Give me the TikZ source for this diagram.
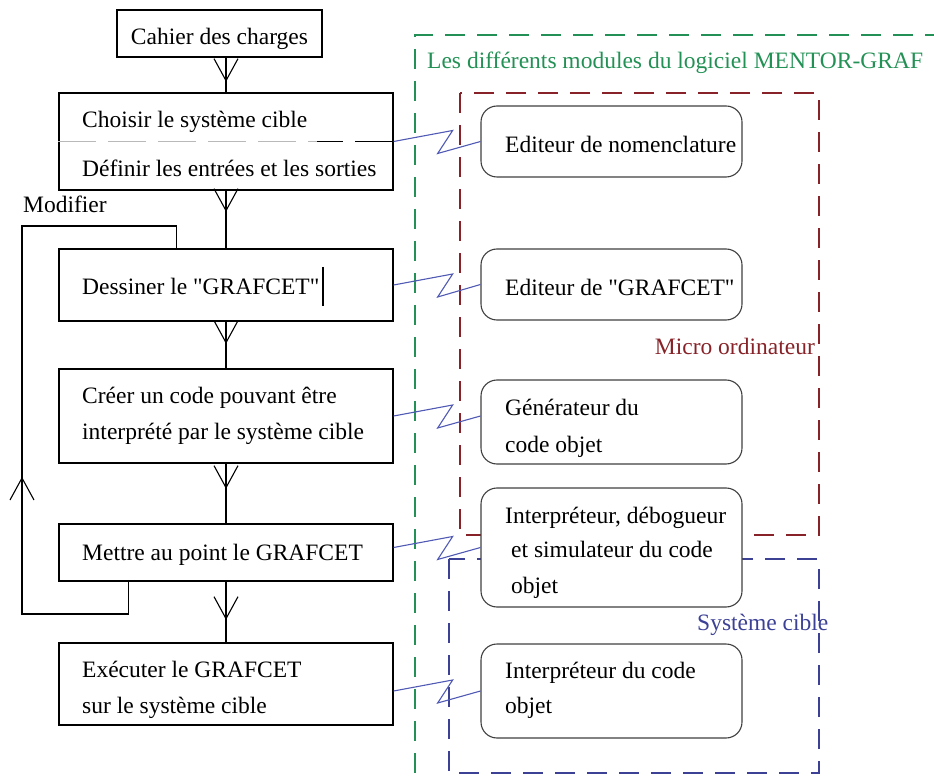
\documentclass[tikz,border=0pt]{standalone}
\usepackage{fontspec}
\setmainfont{Liberation Serif}[Ligatures=TeXOff]
\usetikzlibrary{calc}
\definecolor{mgreen}{RGB}{35,145,85}
\definecolor{mred}{RGB}{135,35,40}
\definecolor{mblue}{RGB}{60,65,150}
\definecolor{cblue}{RGB}{80,90,180}
\begin{document}
\begin{tikzpicture}[x=1pt,y=-1pt,
  font=\fontsize{23.5}{36}\selectfont,
  box/.style={draw=black, line width=1.3pt, fill=white, inner sep=0pt, minimum width=334pt},
  rbox/.style={draw=black!75, line width=1.1pt, rounded corners=16pt, fill=white, inner sep=0pt, minimum width=261pt},
  txt/.style={anchor=base west, inner sep=0pt},
  flow/.style={draw=black, line width=1.3pt},
  zig/.style={draw=cblue, line width=1.1pt, line join=miter},
  grp/.style={line width=1.3pt, dash pattern=on 20pt off 12pt},
  veedown/.pic={\draw[line width=1.1pt] (-12,-22) -- (0,0) -- (12,-22);},
  veeup/.pic={\draw[line width=1.1pt] (-12,22) -- (0,0) -- (12,22);}]
\useasboundingbox (0,0) rectangle (934,783);

% group frames
\draw[grp, mgreen] (945,35) -- (415,35) -- (415,795);
\draw[grp, mred] (460,93) rectangle (819,535);
\draw[grp, mblue] (449,559) rectangle (819,773);
\node[txt, mgreen] (lg) at (427,69) {Les différents modules du logiciel MENTOR-GRAF};
\node[anchor=base east, inner sep=0pt, mred] (lm) at (815,355) {Micro ordinateur};
\node[txt, mblue] (ls) at (697,630) {Système cible};

% left flow boxes
\node[box, minimum width=205pt, minimum height=47pt] (b1) at (219.5,33.5) {};
\node[box, minimum height=97pt] (b2) at (226,141.5) {};
\node[box, minimum height=72pt] (b3) at (226,285) {};
\node[box, minimum height=94pt] (b4) at (226,416) {};
\node[box, minimum height=57pt] (b5) at (226,552.5) {};
\node[box, minimum height=82pt] (b6) at (226,684) {};

\node[anchor=base, inner sep=0pt] (t1) at (219.5,45) {Cahier des charges};
\node[txt] (t2a) at (82,128) {Choisir le système cible};
\node[txt] (t2b) at (82,177) {Définir les entrées et les sorties};
\node[txt] (t3) at (82,295) {Dessiner le "GRAFCET"};
\node[txt] (t4a) at (82,403) {Créer un code pouvant être};
\node[txt] (t4b) at (82,439) {interprété par le système cible};
\node[txt] (t5) at (82,560) {Mettre au point le GRAFCET};
\node[txt] (t6a) at (82,677) {Exécuter le GRAFCET};
\node[txt] (t6b) at (82,713) {sur le système cible};
\node[txt] (tmod) at (23,213) {Modifier};

% divider inside box 2
\draw[gray!55, line width=1.2pt, dash pattern=on 38pt off 12pt] (b2.west) -- (317,141.5);
\draw[black, line width=1.2pt, dash pattern=on 26pt off 12pt on 38pt off 12pt] (317,141.5) -- (b2.east);
% text cursor
\draw[line width=1.3pt] (323,267) -- (323,306);

% vertical flow connectors
\draw[flow] (b1.south -| b2.north) -- (b2.north);
\pic at ($(b1.south -| b2.north)+(0,23)$) {veedown};
\draw[flow] (b2.south) -- (b3.north);
\pic at ($(b2.south)+(0,20)$) {veedown};
\draw[flow] (b3.south) -- (b4.north);
\pic at ($(b3.south)+(0,21)$) {veedown};
\draw[flow] (b4.south) -- (b5.north);
\pic at ($(b4.south)+(0,24)$) {veedown};
\draw[flow] (b5.south) -- (b6.north);
\pic at ($(b5.south)+(0,37)$) {veedown};

% Modifier loop
\coordinate (lpBL) at (22,614);
\coordinate (lpTL) at (22,226);
\draw[flow] ($(b5.south west)+(70,0)$) |- (lpBL) -- (lpTL) -| ($(b3.north west)+(118,0)$);
\pic at (22,478) {veeup};

% modules
\node[rbox, minimum height=71pt] (r1) at (611.5,141.5) {};
\node[rbox, minimum height=71pt] (r2) at (611.5,284.5) {};
\node[rbox, minimum height=84pt] (r3) at (611.5,422) {};
\node[rbox, minimum height=119pt] (r4) at (611.5,547.5) {};
\node[rbox, minimum height=94pt] (r5) at (611.5,691) {};

\node[txt] (m1) at (505,153) {Editeur de nomenclature};
\node[txt] (m2) at (505,296) {Editeur de "GRAFCET"};
\node[txt] (m3a) at (505,415) {Générateur du};
\node[txt] (m3b) at (505,452) {code objet};
\node[txt] (m4a) at (505,523) {Interpréteur, débogueur};
\node[txt] (m4b) at (511,557) {et simulateur du code};
\node[txt] (m4c) at (511,593) {objet};
\node[txt] (m5a) at (505,678) {Interpréteur du code};
\node[txt] (m5b) at (505,713) {objet};

% zigzag links
\draw[zig] (b2.east) -- ++(59,-11) -- ++(-15,23) -- (r1.west);
\draw[zig] (b3.east) -- ++(59,-11) -- ++(-15,23) -- (r2.west);
\draw[zig] (b4.east) -- ++(59,-11) -- ++(-15,23) -- (r3.west |- b4.east);
\draw[zig] (b5.east |- r4.west) -- ++(59,-11) -- ++(-15,23) -- (r4.west);
\draw[zig] (b6.east |- r5.west) -- ++(59,-11) -- ++(-15,23) -- (r5.west);
\end{tikzpicture}
\end{document}
